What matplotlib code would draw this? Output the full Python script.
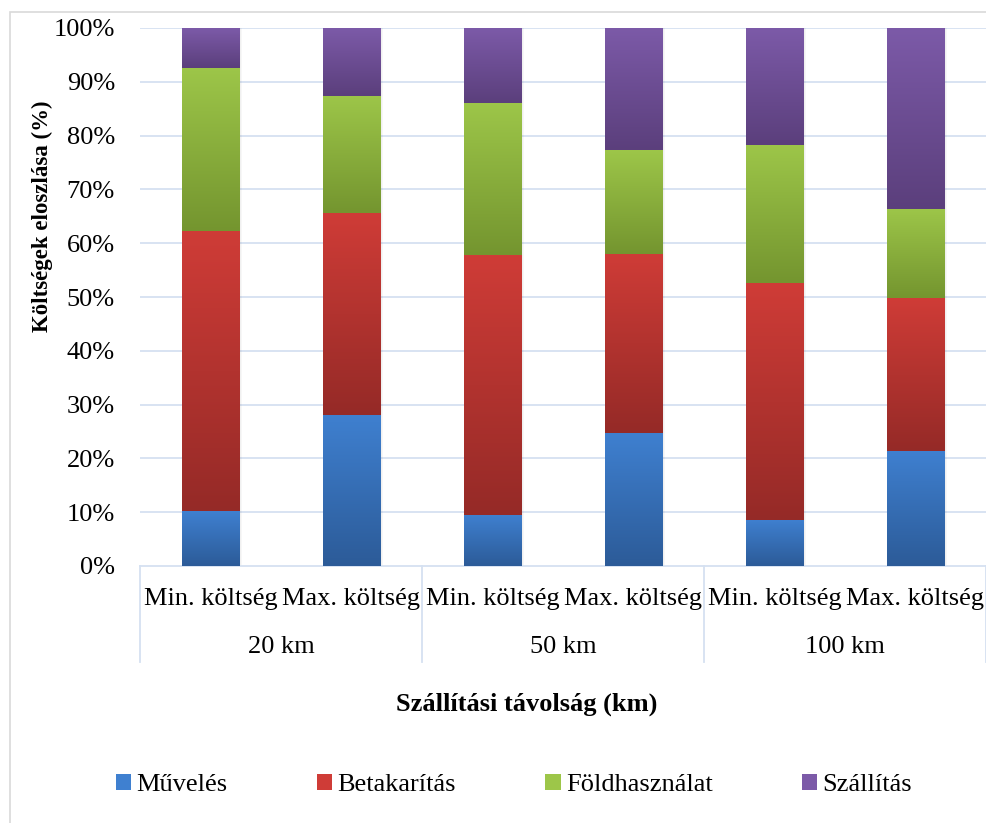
import numpy as np
import matplotlib
matplotlib.use("Agg")
import matplotlib.pyplot as plt
from matplotlib.colors import LinearSegmentedColormap
from matplotlib.patches import Rectangle
from matplotlib.lines import Line2D

plt.rcParams['font.family'] = ['Liberation Serif', 'DejaVu Serif']

scenarios = ["Min. költség", "Max. költség"] * 3
distances = ["20 km", "50 km", "100 km"]
series = ["Művelés", "Betakarítás", "Földhasználat", "Szállítás"]

muveles = [10.2, 28.1, 9.5, 24.7, 8.6, 21.4]
betakaritas = [52.1, 37.5, 48.3, 33.3, 44.0, 28.4]
foldhasznalat = [30.3, 21.8, 28.3, 19.3, 25.7, 16.6]
szallitas = [7.4, 12.6, 13.9, 22.7, 21.7, 33.6]

# (top colour, bottom colour) of each gradient fill
colors = [("#3f80d0", "#2c5b98"),
          ("#cf3c37", "#952a27"),
          ("#9dc649", "#74952f"),
          ("#7c5aa8", "#5b3f7c")]

FS = 19
W, H, DPI = 987, 823, 100
fig = plt.figure(figsize=(W / DPI, H / DPI), dpi=DPI)
fig.patch.set_facecolor("white")

# outer chart-area border
fig.add_artist(Rectangle((10 / W, -0.01), 1.0, 1 - 12 / H + 0.01,
                         transform=fig.transFigure, fill=False,
                         edgecolor="#d9d9d9", linewidth=1.2))

ax = fig.add_axes([140 / W, (H - 566) / H, 846 / W, 538 / H])
ax.set_xlim(-0.5, 5.5)
ax.set_ylim(0, 100)

grid_c = "#d5e1f1"
ax.set_yticks(np.arange(0, 101, 10))
ax.set_yticklabels([f"{v}%" for v in range(0, 101, 10)], fontsize=FS)
ax.tick_params(axis="y", length=0, pad=18)
ax.set_xticks([])
for v in range(10, 101, 10):
    ax.axhline(v, color=grid_c, linewidth=1.3, zorder=0)
for s in ["top", "right", "left"]:
    ax.spines[s].set_visible(False)
ax.spines["bottom"].set_color(grid_c)
ax.spines["bottom"].set_linewidth(1.3)

x = np.arange(len(scenarios))
width = 0.41
bottom = np.zeros(len(x))
for vals, (ctop, cbot), name in zip([muveles, betakaritas, foldhasznalat, szallitas],
                                    colors, series):
    bars = ax.bar(x, vals, width, bottom=bottom, color=ctop, edgecolor="none",
                  label=name, zorder=2)
    cmap = LinearSegmentedColormap.from_list(name, [cbot, ctop])
    grad = np.linspace(0, 1, 256).reshape(-1, 1)
    for b in bars:
        x0, y0 = b.get_x(), b.get_y()
        ax.imshow(grad, cmap=cmap, origin="lower", aspect="auto",
                  extent=(x0, x0 + b.get_width(), y0, y0 + b.get_height()),
                  zorder=3, interpolation="bilinear")
    bottom += np.array(vals)

# soft shadow to the right of each bar
for xi in x:
    for k, a in enumerate([0.10, 0.06, 0.03]):
        ax.add_patch(Rectangle((xi + width / 2 + k * 0.007, 0), 0.007, 100,
                               facecolor="black", alpha=a, edgecolor="none",
                               zorder=1))
ax.set_xlim(-0.5, 5.5)

# two-level category axis
trans = ax.get_xaxis_transform()
for xi, lab in zip(x, scenarios):
    ax.text(xi, -0.062, lab, transform=trans, ha="center", va="center",
            fontsize=FS, clip_on=False)
for i, d in enumerate(distances):
    ax.text(2 * i + 0.5, -0.15, d, transform=trans, ha="center",
            va="center", fontsize=FS, clip_on=False)
for xb in [-0.5, 1.5, 3.5, 5.5]:
    ax.add_line(Line2D([xb, xb], [0, -0.178], transform=trans,
                       color=grid_c, linewidth=1.3, clip_on=False))

fig.text(527 / W, 1 - 704 / H, "Szállítási távolság (km)", ha="center",
         va="center", fontsize=FS, fontweight="bold")
fig.text(42 / W, 1 - 216 / H, "Költségek eloszlása (%)", ha="center",
         va="center", rotation=90, fontsize=16.5, fontweight="bold")

handles = [Rectangle((0, 0), 1, 1, facecolor=c[0]) for c in colors]
fig.legend(handles, series, loc="center", bbox_to_anchor=(514 / W, 1 - 785 / H),
           ncol=4, frameon=False, fontsize=FS, handlelength=0.57,
           handleheight=0.57, handletextpad=0.2, columnspacing=3.4,
           borderpad=0, borderaxespad=0)

fig.savefig("out.png", dpi=DPI)
